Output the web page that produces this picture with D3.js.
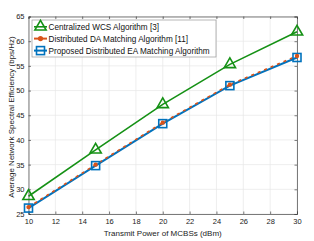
<!DOCTYPE html>
<html><head><meta charset="utf-8">
<script src="https://cdn.jsdelivr.net/npm/d3@7"></script>
<style>body{margin:0;background:#fff}svg{display:block;font-family:"Liberation Sans",Arial,sans-serif}</style>
</head><body><svg id="c" width="314" height="241"></svg>
<script>
const xPower = [10, 15, 20, 25, 30];
const wcs = [28.6, 38.0, 47.2, 55.3, 61.9];
const da = [26.4, 35.0, 43.5, 51.2, 57.0];
const ea = [26.2, 34.8, 43.3, 51.0, 56.7];
const xTicks = [10, 12, 14, 16, 18, 20, 22, 24, 26, 28, 30];
const yTicks = [25, 30, 35, 40, 45, 50, 55, 60, 65];
const seriesNames = ["Centralized WCS Algorithm [3]", "Distributed DA Matching Algorithm [11]", "Proposed Distributed EA Matching Algorithm"];

const svg = d3.select("#c");
const L = 28.5, R = 297, T = 16.5, B = 214;
const x = d3.scaleLinear().domain([10, 30]).range([L, R]);
const y = d3.scaleLinear().domain([25, 65]).range([B, T]);

// grid
const g = svg.append("g");
g.selectAll(".vg").data(xTicks).enter().append("line")
  .attr("x1", d => x(d)).attr("x2", d => x(d)).attr("y1", T).attr("y2", B)
  .attr("stroke", "#e6e6e6").attr("stroke-width", 0.7);
g.selectAll(".hg").data(yTicks).enter().append("line")
  .attr("y1", d => y(d)).attr("y2", d => y(d)).attr("x1", L).attr("x2", R)
  .attr("stroke", "#e6e6e6").attr("stroke-width", 0.7);

// axes
const ax = svg.append("g").attr("transform", `translate(0,${B})`)
  .call(d3.axisBottom(x).tickValues(xTicks).tickSize(-2.5).tickPadding(5).tickFormat(d3.format("d")));
const ay = svg.append("g").attr("transform", `translate(${L},0)`)
  .call(d3.axisLeft(y).tickValues(yTicks).tickSize(-2.5).tickPadding(4).tickFormat(d3.format("d")));
const axT = svg.append("g").attr("transform", `translate(0,${T})`)
  .call(d3.axisTop(x).tickValues(xTicks).tickSize(-2.5).tickFormat(""));
const ayR = svg.append("g").attr("transform", `translate(${R},0)`)
  .call(d3.axisRight(y).tickValues(yTicks).tickSize(-2.5).tickFormat(""));
[ax, ay, axT, ayR].forEach(a => {
  a.select(".domain").attr("stroke", "#444").attr("stroke-width", 0.7);
  a.selectAll(".tick line").attr("stroke", "#444").attr("stroke-width", 0.7);
  a.selectAll("text").attr("font-size", 7.5).attr("fill", "#222").attr("font-family", "Liberation Sans, Arial, sans-serif");
});

// axis labels
svg.append("text").attr("x", (L + R) / 2).attr("y", 236).attr("text-anchor", "middle")
  .attr("font-size", 8).attr("fill", "#222").text("Transmit Power of MCBSs (dBm)");
svg.append("text").attr("transform", `translate(14,117) rotate(-90)`).attr("text-anchor", "middle")
  .attr("font-size", 8).attr("fill", "#222").text("Average Network Spectral Efficiency (bps/Hz)");

const green = "#159115", orange = "#D95319", blue = "#0072BD";
const line = d3.line().x((d, i) => x(xPower[i])).y(d => y(d));

// WCS
svg.append("path").datum(wcs).attr("d", line).attr("fill", "none").attr("stroke", green).attr("stroke-width", 1.6);
const tri = d3.symbol().type(d3.symbolTriangle).size(55);
svg.selectAll(".tri").data(wcs).enter().append("path")
  .attr("d", tri).attr("transform", (d, i) => `translate(${x(xPower[i])},${y(d)})`)
  .attr("fill", "none").attr("stroke", green).attr("stroke-width", 1.6);

// EA (blue, solid)
svg.append("path").datum(ea).attr("d", line).attr("fill", "none").attr("stroke", blue).attr("stroke-width", 2);
// DA (orange dashed)
svg.append("path").datum(da).attr("d", line).attr("fill", "none").attr("stroke", orange).attr("stroke-width", 1.6).attr("stroke-dasharray", "3,4");
svg.selectAll(".sq").data(ea).enter().append("rect")
  .attr("x", (d, i) => x(xPower[i]) - 4).attr("y", d => y(d) - 4).attr("width", 8).attr("height", 8)
  .attr("fill", "none").attr("stroke", blue).attr("stroke-width", 1.6);
svg.selectAll(".ci").data(da).enter().append("circle")
  .attr("cx", (d, i) => x(xPower[i])).attr("cy", d => y(d)).attr("r", 2.2).attr("fill", orange);

// legend
const lg = svg.append("g");
lg.append("rect").attr("x", 32).attr("y", 20).attr("width", 184).attr("height", 37)
  .attr("fill", "#fff").attr("stroke", "#999").attr("stroke-width", 0.7);
const ly = [26.8, 38.6, 50.6];
seriesNames.forEach((name, i) => {
  const yy = ly[i];
  const col = [green, orange, blue][i];
  lg.append("line").attr("x1", 34).attr("x2", 47).attr("y1", yy).attr("y2", yy)
    .attr("stroke", col).attr("stroke-width", i === 0 ? 1.6 : 2);
  if (i === 0) lg.append("path").attr("d", tri).attr("transform", `translate(40.5,${yy})`).attr("fill", "none").attr("stroke", green).attr("stroke-width", 1.6);
  if (i === 1) lg.append("circle").attr("cx", 40.5).attr("cy", yy).attr("r", 2.6).attr("fill", orange);
  if (i === 2) lg.append("rect").attr("x", 36.5).attr("y", yy - 4).attr("width", 8).attr("height", 8).attr("fill", "none").attr("stroke", blue).attr("stroke-width", 1.6);
  lg.append("text").attr("x", 48.5).attr("y", yy + 3).attr("font-size", 8.2).attr("fill", "#111").text(name);
});
</script></body></html>
